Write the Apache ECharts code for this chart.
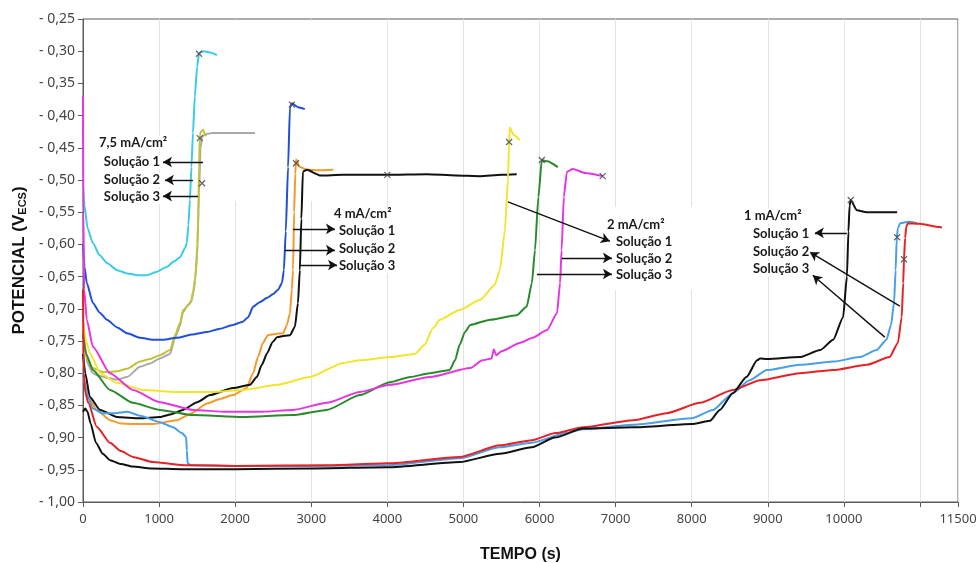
<!DOCTYPE html>
<html>
<head>
<meta charset="utf-8">
<script src="https://cdn.jsdelivr.net/npm/echarts@6/dist/echarts.min.js"></script>
<style>
  html, body { margin: 0; padding: 0; background: #ffffff; }
  #chart { width: 978px; height: 563px; }
</style>
</head>
<body>
<div id="chart"></div>
<script>
// Potencial (V vs ECS) em função do tempo (s) — ensaios galvanostáticos

// 7,5 mA/cm²
const sol75_1 = [[0,-0.72],[30,-0.76],[60,-0.785],[130,-0.80],[180,-0.803],[355,-0.808],[445,-0.810],[580,-0.806],[750,-0.790],[880,-0.785],[1010,-0.777],[1145,-0.770],[1210,-0.745],[1270,-0.728],[1315,-0.705],[1380,-0.694],[1420,-0.690],[1450,-0.675],[1475,-0.655],[1505,-0.60],[1525,-0.52],[1545,-0.45],[1565,-0.433],[1600,-0.429],[1700,-0.427],[2000,-0.427],[2260,-0.427]];
const sol75_2 = [[0,-0.51],[20,-0.54],[60,-0.575],[130,-0.598],[220,-0.617],[315,-0.629],[450,-0.640],[580,-0.645],[720,-0.648],[840,-0.648],[960,-0.643],[1100,-0.635],[1200,-0.626],[1275,-0.620],[1340,-0.606],[1365,-0.598],[1385,-0.570],[1405,-0.531],[1425,-0.480],[1445,-0.427],[1470,-0.370],[1500,-0.324],[1525,-0.303],[1580,-0.300],[1670,-0.302],[1760,-0.306]];
const sol75_3 = [[0,-0.73],[30,-0.765],[60,-0.78],[130,-0.792],[250,-0.798],[355,-0.798],[450,-0.797],[580,-0.793],[750,-0.782],[880,-0.778],[1010,-0.772],[1145,-0.764],[1210,-0.741],[1275,-0.722],[1315,-0.702],[1380,-0.695],[1420,-0.688],[1450,-0.672],[1470,-0.655],[1500,-0.62],[1515,-0.55],[1525,-0.48],[1535,-0.43],[1555,-0.424],[1580,-0.422],[1600,-0.428],[1620,-0.432]];

// 4 mA/cm²
const sol4_1 = [[0,-0.80],[30,-0.82],[70,-0.837],[180,-0.857],[355,-0.873],[500,-0.878],[655,-0.879],[920,-0.879],[1235,-0.873],[1430,-0.862],[1630,-0.847],[1800,-0.840],[1970,-0.834],[2150,-0.823],[2235,-0.800],[2300,-0.775],[2365,-0.753],[2430,-0.741],[2530,-0.739],[2630,-0.738],[2680,-0.725],[2720,-0.707],[2745,-0.670],[2760,-0.640],[2775,-0.550],[2790,-0.490],[2800,-0.468],[2850,-0.480],[2950,-0.484],[3100,-0.485],[3290,-0.484]];
const sol4_2 = [[0,-0.60],[20,-0.635],[50,-0.66],[130,-0.691],[220,-0.706],[315,-0.717],[450,-0.729],[580,-0.738],[750,-0.745],[920,-0.748],[1050,-0.748],[1235,-0.745],[1430,-0.740],[1630,-0.736],[1800,-0.731],[1970,-0.725],[2100,-0.720],[2170,-0.713],[2235,-0.697],[2320,-0.690],[2420,-0.683],[2500,-0.677],[2560,-0.671],[2615,-0.660],[2640,-0.640],[2665,-0.580],[2695,-0.480],[2720,-0.387],[2745,-0.381],[2825,-0.387],[2915,-0.390]];
const sol4_3 = [[0,-0.77],[30,-0.80],[90,-0.837],[225,-0.857],[445,-0.868],[750,-0.870],[1010,-0.868],[1150,-0.864],[1315,-0.857],[1500,-0.845],[1670,-0.834],[1970,-0.823],[2195,-0.818],[2285,-0.806],[2350,-0.787],[2420,-0.769],[2490,-0.752],[2550,-0.744],[2650,-0.742],[2720,-0.741],[2785,-0.728],[2825,-0.691],[2850,-0.640],[2870,-0.560],[2890,-0.487],[2945,-0.484],[3075,-0.491],[3110,-0.493],[3420,-0.492],[4000,-0.492],[4520,-0.491],[4900,-0.493],[5220,-0.494],[5500,-0.492],[5700,-0.491]];

// 2 mA/cm²
const sol2_1 = [[0,-0.72],[40,-0.75],[90,-0.769],[225,-0.80],[445,-0.815],[790,-0.826],[1235,-0.829],[1700,-0.829],[2100,-0.826],[2550,-0.818],[2980,-0.806],[3420,-0.784],[3640,-0.780],[4030,-0.775],[4360,-0.770],[4490,-0.756],[4600,-0.730],[4690,-0.717],[4950,-0.702],[5220,-0.686],[5410,-0.663],[5480,-0.640],[5545,-0.578],[5585,-0.500],[5600,-0.441],[5610,-0.419],[5660,-0.430],[5740,-0.438]];
const sol2_2 = [[0,-0.37],[5,-0.55],[15,-0.67],[50,-0.717],[130,-0.759],[355,-0.80],[655,-0.826],[1010,-0.845],[1445,-0.857],[1890,-0.860],[2325,-0.860],[2760,-0.857],[3205,-0.846],[3640,-0.829],[4030,-0.818],[4560,-0.806],[5090,-0.792],[5250,-0.780],[5370,-0.777],[5400,-0.763],[5430,-0.772],[5500,-0.766],[5740,-0.753],[5910,-0.745],[6100,-0.733],[6230,-0.707],[6270,-0.660],[6290,-0.609],[6320,-0.526],[6360,-0.487],[6440,-0.483],[6600,-0.489],[6830,-0.494]];
const sol2_3 = [[0,-0.74],[40,-0.77],[130,-0.795],[355,-0.826],[655,-0.846],[1010,-0.857],[1445,-0.865],[2100,-0.868],[2760,-0.865],[3205,-0.857],[3640,-0.834],[4030,-0.814],[4300,-0.806],[4560,-0.800],[4820,-0.795],[4890,-0.780],[4950,-0.756],[5020,-0.736],[5090,-0.725],[5350,-0.717],[5700,-0.710],[5830,-0.697],[5900,-0.660],[5940,-0.609],[5985,-0.526],[6030,-0.469],[6100,-0.471],[6240,-0.480]];

// 1 mA/cm²
const sol1_1 = [[0,-0.86],[30,-0.855],[60,-0.86],[100,-0.878],[170,-0.908],[260,-0.925],[355,-0.935],[500,-0.941],[650,-0.945],[900,-0.948],[1300,-0.949],[2000,-0.949],[3000,-0.948],[4000,-0.946],[4950,-0.938],[5480,-0.925],[5900,-0.915],[6200,-0.900],[6570,-0.886],[7230,-0.884],[8000,-0.879],[8240,-0.874],[8370,-0.857],[8540,-0.831],[8720,-0.806],[8860,-0.780],[8900,-0.777],[8990,-0.778],[9420,-0.775],[9690,-0.764],[9860,-0.748],[9990,-0.713],[10040,-0.650],[10060,-0.580],[10075,-0.540],[10090,-0.531],[10170,-0.547],[10300,-0.550],[10700,-0.550]];
const sol1_2 = [[0,-0.80],[20,-0.815],[50,-0.831],[130,-0.855],[250,-0.862],[420,-0.862],[580,-0.860],[750,-0.866],[1010,-0.876],[1183,-0.884],[1300,-0.893],[1355,-0.899],[1365,-0.920],[1375,-0.940],[1420,-0.943],[2000,-0.944],[3000,-0.944],[4000,-0.943],[4950,-0.932],[5480,-0.915],[5900,-0.908],[6350,-0.893],[6570,-0.887],[7230,-0.880],[8000,-0.870],[8280,-0.857],[8540,-0.831],[8760,-0.811],[8990,-0.795],[9420,-0.787],[9860,-0.782],[10210,-0.775],[10430,-0.764],[10560,-0.748],[10620,-0.725],[10660,-0.690],[10680,-0.640],[10695,-0.590],[10710,-0.575],[10740,-0.567],[10850,-0.565],[10960,-0.567]];
const sol1_3 = [[0,-0.67],[10,-0.80],[30,-0.83],[70,-0.846],[180,-0.883],[355,-0.908],[500,-0.921],[655,-0.930],[920,-0.938],[1360,-0.943],[2000,-0.944],[3240,-0.943],[4000,-0.940],[4950,-0.930],[5480,-0.912],[5900,-0.904],[6210,-0.893],[6570,-0.884],[7230,-0.873],[7670,-0.862],[8110,-0.846],[8540,-0.826],[8900,-0.811],[9420,-0.800],[9860,-0.795],[10300,-0.787],[10600,-0.775],[10710,-0.753],[10760,-0.713],[10780,-0.660],[10790,-0.623],[10805,-0.590],[10820,-0.573],[10840,-0.567],[11000,-0.568],[11260,-0.573],[11290,-0.574]];

// pontos marcados com "x" sobre as curvas
const crossMarks = [[1525,-0.304],[1535,-0.435],[1565,-0.505],[2745,-0.383],[2800,-0.474],[4000,-0.492],[5600,-0.441],[6030,-0.469],[6830,-0.494],[10090,-0.531],[10700,-0.589],[10790,-0.623]];

// setas das legendas: [t inicial, E inicial, t final, E final]
const arrows = [
  [1577,-0.472,1051,-0.472],[1445,-0.500,1077,-0.500],[1511,-0.525,1051,-0.525],
  [2759,-0.576,3311,-0.576],[2654,-0.609,3311,-0.609],[2851,-0.632,3338,-0.632],
  [5585,-0.534,6925,-0.595],[6294,-0.621,6951,-0.621],[5966,-0.646,6951,-0.646],
  [10039,-0.582,9619,-0.582],[10735,-0.696,9553,-0.612],[10538,-0.744,9592,-0.648]
];

const xMin = 0, xMax = 11500, xStep = 1000;
const yMin = -1.00, yMax = -0.25, yStep = 0.05;

const curves = [
  { name: '7,5 mA/cm² – Solução 1', data: sol75_1, color: '#a9a9a9' },
  { name: '7,5 mA/cm² – Solução 3', data: sol75_3, color: '#c3c33a' },
  { name: '7,5 mA/cm² – Solução 2', data: sol75_2, color: '#3ccbe6' },
  { name: '4 mA/cm² – Solução 2', data: sol4_2, color: '#2150d2' },
  { name: '4 mA/cm² – Solução 1', data: sol4_1, color: '#f39a2c' },
  { name: '4 mA/cm² – Solução 3', data: sol4_3, color: '#111111' },
  { name: '2 mA/cm² – Solução 1', data: sol2_1, color: '#f2e52e' },
  { name: '2 mA/cm² – Solução 3', data: sol2_3, color: '#2b8a2b' },
  { name: '2 mA/cm² – Solução 2', data: sol2_2, color: '#e636e0' },
  { name: '1 mA/cm² – Solução 2', data: sol1_2, color: '#4a9fe6' },
  { name: '1 mA/cm² – Solução 3', data: sol1_3, color: '#e52226' },
  { name: '1 mA/cm² – Solução 1', data: sol1_1, color: '#111111' }
];

const series = curves.map(c => ({
  name: c.name,
  type: 'line',
  data: c.data,
  showSymbol: false,
  smooth: 0.2,
  smoothMonotone: 'x',
  lineStyle: { color: c.color, width: 2 },
  itemStyle: { color: c.color },
  z: 3,
  silent: true
}));

series.push({
  name: 'marcas',
  type: 'scatter',
  data: crossMarks,
  symbol: 'path://M0,0L10,10M10,0L0,10',
  symbolSize: 6,
  itemStyle: { color: 'rgba(0,0,0,0)', borderColor: '#444', borderWidth: 1.3 },
  z: 4,
  silent: true
});

series.push({
  name: 'setas',
  type: 'line',
  data: [],
  silent: true,
  markLine: {
    silent: true,
    animation: false,
    symbol: ['none', 'arrow'],
    symbolSize: [8, 9],
    label: { show: false },
    lineStyle: { color: '#111', width: 1.4, type: 'solid' },
    data: arrows.map(a => [{ coord: [a[0], a[1]] }, { coord: [a[2], a[3]] }])
  },
  z: 5
});

const labelFont = { fontFamily: 'Lato, "Open Sans", sans-serif', fontWeight: 'bold', fontSize: 13, fill: '#1a1a1a',
  backgroundColor: '#ffffff', padding: [1, 1, 1, 1] };
function txt(x, y, s, align) {
  return { type: 'text', x: x, y: y, z: 10,
    style: Object.assign({ text: s, align: align || 'left', verticalAlign: 'middle' }, labelFont) };
}
// áreas brancas por trás dos blocos de legenda (sobre a grade, sob as curvas)
function cover(x, y, w, h) {
  return { type: 'rect', z: 1, silent: true, shape: { x: x, y: y, width: w, height: h }, style: { fill: '#ffffff' } };
}

const chart = echarts.init(document.getElementById('chart'), null, { renderer: 'canvas' });
chart.setOption({
  animation: false,
  backgroundColor: '#ffffff',
  grid: { left: 83, right: 20, top: 19, bottom: 61, outerBoundsMode: 'none', containLabel: false,
    show: true, borderColor: '#5a5a5a', borderWidth: 1, backgroundColor: 'transparent' },
  xAxis: {
    type: 'value', min: xMin, max: xMax, interval: xStep,
    name: 'TEMPO (s)', nameLocation: 'middle', nameGap: 45,
    nameTextStyle: { fontFamily: '"Liberation Sans", Arial, sans-serif', fontWeight: 'bold', fontSize: 16, color: '#111' },
    axisLine: { lineStyle: { color: '#5a5a5a', width: 1 } },
    axisTick: { show: true, length: 5, lineStyle: { color: '#5a5a5a' } },
    axisLabel: { margin: 11, fontFamily: '"Noto Sans", sans-serif', fontSize: 13, color: '#444',
      formatter: v => (v === 11000 ? '' : String(v)) },
    splitLine: { show: true, lineStyle: { color: '#e2e2e2', width: 1 } }
  },
  yAxis: {
    type: 'value', min: yMin, max: yMax, interval: yStep,
    name: 'POTENCIAL (V{sub|ECS})', nameLocation: 'middle', nameGap: 55, nameRotate: 90,
    nameTextStyle: { fontFamily: '"Liberation Sans", Arial, sans-serif', fontWeight: 'bold', fontSize: 17, color: '#111',
      rich: { sub: { fontFamily: '"Liberation Sans", Arial, sans-serif', fontWeight: 'bold', fontSize: 11, color: '#111', verticalAlign: 'bottom', padding: [7, 0, 0, 0] } } },
    axisLine: { show: true, lineStyle: { color: '#5a5a5a', width: 1 } },
    axisTick: { show: true, length: 5, lineStyle: { color: '#5a5a5a' } },
    axisLabel: { margin: 8, fontFamily: '"Noto Sans", sans-serif', fontSize: 14, color: '#444',
      formatter: v => '- ' + (-v).toFixed(2).replace('.', ',') },
    splitLine: { show: false }
  },
  series: series,
  graphic: [
    cover(228, 21, 94, 180),
    cover(600, 207, 100, 83),
    txt(98, 143, '7,5 mA/cm²'),
    txt(161, 162, 'Solução 1', 'right'),
    txt(161, 180, 'Solução 2', 'right'),
    txt(161, 197, 'Solução 3', 'right'),
    txt(333, 214, '4 mA/cm²'),
    txt(338, 231, 'Solução 1'),
    txt(338, 249, 'Solução 2'),
    txt(338, 266, 'Solução 3'),
    txt(606, 225, '2 mA/cm²'),
    txt(615, 242, 'Solução 1'),
    txt(615, 259, 'Solução 2'),
    txt(615, 275, 'Solução 3'),
    txt(743, 216, '1 mA/cm²'),
    txt(752, 234, 'Solução 1'),
    txt(752, 252, 'Solução 2'),
    txt(752, 269, 'Solução 3')
  ]
});
</script>
</body>
</html>
